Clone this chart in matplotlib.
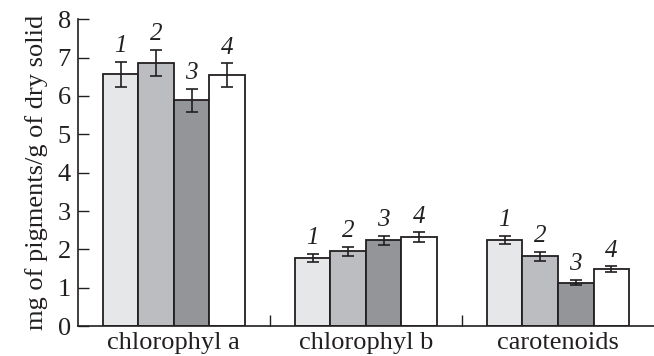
import matplotlib

matplotlib.use("Agg")

import matplotlib.pyplot as plt
import numpy as np

categories = ["chlorophyl a", "chlorophyl b", "carotenoids"]
series_labels = ["1", "2", "3", "4"]
values = [
    [6.56, 1.78, 2.25],
    [6.87, 1.95, 1.82],
    [5.89, 2.24, 1.13],
    [6.54, 2.32, 1.48],
]
errors = [
    [0.33, 0.10, 0.10],
    [0.34, 0.12, 0.11],
    [0.30, 0.12, 0.07],
    [0.31, 0.13, 0.08],
]
colors = ["#e6e7e8", "#bcbdc0", "#939598", "#ffffff"]
edge = "#231f20"

plt.rcParams["font.family"] = ["Liberation Serif", "DejaVu Serif"]

fig = plt.figure(figsize=(6.54, 3.56), dpi=100)
ax = fig.add_axes([0.119, 0.084, 0.881, 0.862])

x = np.arange(len(categories))
width = 0.185
for i, (vals, errs) in enumerate(zip(values, errors)):
    pos = x + (i - 1.5) * width
    ax.bar(pos, vals, width, color=colors[i], edgecolor=edge, linewidth=1.3,
           zorder=2)
    ax.errorbar(pos, vals, yerr=errs, fmt="none", ecolor=edge, elinewidth=1.2,
                capsize=4.3, capthick=1.2, zorder=3)
    for p, v, e in zip(pos, vals, errs):
        ax.text(p, v + e + 0.12, series_labels[i], ha="center", va="bottom",
                fontsize=18, fontstyle="italic", color=edge)

ax.set_xlim(-0.5, 2.5)
ax.set_ylim(0, 8)
ax.set_yticks(range(0, 9))
ax.set_xticks([0.5, 1.5], minor=False)
ax.set_xticklabels([])
ax.set_xticks(x, minor=True)
ax.set_xticklabels(categories, minor=True)
ax.tick_params(axis="x", which="major", direction="in", length=8, width=1,
               color=edge)
ax.tick_params(axis="x", which="minor", length=0, labelsize=19, pad=4,
               labelcolor=edge)
ax.tick_params(axis="y", direction="in", length=8, width=1, color=edge,
               labelsize=19, pad=5, labelcolor=edge)
ax.spines[["top", "right"]].set_visible(False)
for s in ["left", "bottom"]:
    ax.spines[s].set_color(edge)
    ax.spines[s].set_linewidth(1.2)
ax.set_ylabel("mg of pigments/g of dry solid", fontsize=19, color=edge,
              labelpad=7)

fig.savefig("out.png", dpi=100)
plt.close(fig)
